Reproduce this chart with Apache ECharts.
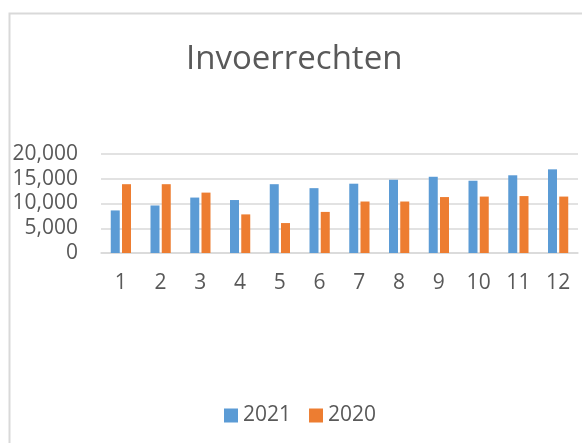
<!DOCTYPE html>
<html>
<head>
<meta charset="utf-8">
<script src="https://cdn.jsdelivr.net/npm/echarts@6/dist/echarts.min.js"></script>
<style>
  html, body { margin: 0; padding: 0; background: #fff; }
  #chart { width: 582px; height: 443px; }
</style>
</head>
<body>
<div id="chart"></div>
<script>
var months = ['1', '2', '3', '4', '5', '6', '7', '8', '9', '10', '11', '12'];
var data2021 = [8600, 9600, 11200, 10700, 13900, 13100, 14000, 14800, 15400, 14600, 15700, 16900];
var data2020 = [13900, 13900, 12200, 7800, 6050, 8300, 10400, 10400, 11300, 11400, 11500, 11400];
var yTicks = [0, 5000, 10000, 15000, 20000];

var font = 'Open Sans, sans-serif';
var txt = '#595959';

// chart init
var myChart = echarts.init(document.getElementById('chart'));
var option = {
    animation: false,
    textStyle: { fontFamily: font },
    graphic: [{
        type: 'rect', left: 7, top: 11,
        shape: { width: 700, height: 600 },
        style: { fill: 'none', stroke: '#d9d9d9', lineWidth: 2 }
    }],
    title: {
        text: 'Invoerrechten', left: 181, top: 38,
        textStyle: { fontSize: 33, fontWeight: 'normal', color: txt, fontFamily: font }
    },
    legend: {
        left: 219, top: 400, itemWidth: 14, itemHeight: 14, itemGap: 18,
        icon: 'rect',
        textStyle: { fontSize: 21, color: txt },
        data: ['2021', '2020']
    },
    grid: { left: 101, right: 4, top: 154, bottom: 190 },
    xAxis: {
        type: 'category', data: months,
        axisLine: { lineStyle: { color: '#d9d9d9', width: 1.5 } },
        axisTick: { show: false },
        axisLabel: { fontSize: 21, color: txt, margin: 20 }
    },
    yAxis: {
        type: 'value', min: yTicks[0], max: yTicks[yTicks.length - 1], interval: 5000,
        axisLine: { show: false }, axisTick: { show: false },
        splitLine: { lineStyle: { color: '#d9d9d9', width: 1.5 } },
        axisLabel: {
            fontSize: 21, color: txt, margin: 23,
            formatter: function (v) { return v.toLocaleString('en-US'); }
        }
    },
    series: [
        { name: '2021', type: 'bar', data: data2021, barWidth: 9, barGap: '25%',
          itemStyle: { color: '#5B9BD5' } },
        { name: '2020', type: 'bar', data: data2020, barWidth: 9,
          itemStyle: { color: '#ED7D31' } }
    ]
};
myChart.setOption(option);
</script>
</body>
</html>
